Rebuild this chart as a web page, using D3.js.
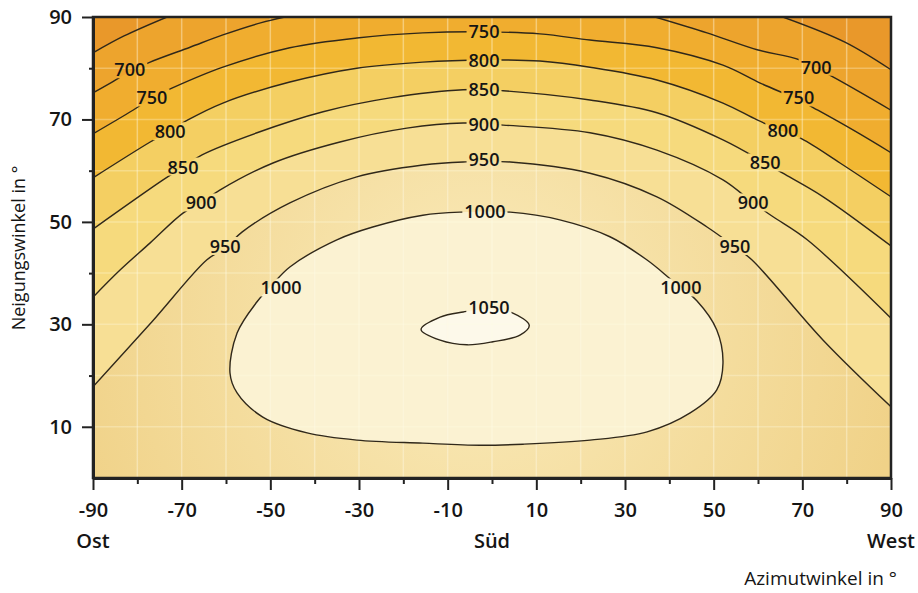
<!DOCTYPE html>
<html>
<head>
<meta charset="utf-8">
<script src="https://cdn.jsdelivr.net/npm/d3@7"></script>
<style>
  body { margin: 0; background: #fff; }
  text { font-family: 'Open Sans', sans-serif; fill: #151515; }
</style>
</head>
<body>
<svg id="chart" width="918" height="593"></svg>
<script>
// axis ticks
const azimuthTicks = [-90, -70, -50, -30, -10, 10, 30, 50, 70, 90]
const azimuthMinor = [-80, -60, -40, -20, 0, 20, 40, 60, 80]
const tiltTicks = [10, 30, 50, 70, 90]
const tiltMinor = [20, 40, 60, 80]
const directionLabels = [['Ost', -90], ['Süd', 0], ['West', 90]]

// contour levels (kWh/m²) and the band colours between them
const levels = [650, 700, 750, 800, 850, 900, 950, 1000, 1050]
const bandColors = ['#e9982a', '#eda42d', '#f0ad2f', '#f2b833', '#f4cf62',
  '#f6da7d', '#f7df95', '#f3d78d', '#fbf2d2', '#fdf9ea']

// contour lines, [azimuth, tilt]
const line650Ost = [[-90, 83.0], [-83, 86.3], [-73.3, 90]]
const line650West = [[65.6, 90], [79.6, 85.1], [90, 79.7]]
const line700Ost = [[-90, 75.2], [-85.7, 77.3], [-81.4, 79.5], [-77.1, 81.2], [-68.1, 84.1],
  [-60.7, 86.5], [-52, 88.9], [-46.7, 90]]
const line700West = [[36.8, 90], [48.5, 86.9], [59.8, 83.6], [69.5, 81.6], [76.9, 78.3], [90, 71.8]]
const line750 = [[-90, 67.2], [-81, 71.8], [-76.7, 74.2], [-72.2, 76.1], [-60.7, 80.2], [-45.6, 84.0],
  [-30.5, 85.9], [-15.6, 86.9], [-1.8, 87.1], [10.8, 86.7], [22.1, 85.5], [37.2, 84.0],
  [52.1, 80.6], [60.5, 77.1], [69.2, 73.8], [73.5, 71.8], [81.9, 67.7], [90, 63.5]]
const line800 = [[-90, 58.6], [-77.1, 65.6], [-72.6, 67.8], [-68.6, 69.9], [-60.7, 73.2], [-45.6, 77.3],
  [-30.5, 80.0], [-15.6, 81.2], [-1.8, 81.6], [10.8, 81.4], [22.1, 80.2], [37.2, 77.7],
  [52.1, 73.2], [59.8, 69.9], [65.6, 67.7], [69.9, 66.2], [78.5, 61.5], [90, 54.9]]
const line850 = [[-90, 48.6], [-74.2, 58.2], [-69.7, 60.7], [-65.4, 63.1], [-53, 67.4], [-38.1, 71.5],
  [-23, 74.2], [-6.5, 75.8], [2.5, 75.6], [22.1, 73.8], [37.2, 71.3], [52.1, 66.0],
  [61.6, 61.5], [65.6, 59.5], [74.7, 54.9], [90, 45.3]]
const line900 = [[-90, 35.3], [-83.9, 40.6], [-77.1, 45.9], [-69.7, 51.7], [-65.6, 53.7], [-61.4, 56.2],
  [-49.4, 61.5], [-34.3, 65.6], [-19.2, 68.3], [-6.5, 69.3], [2.5, 68.9], [22.1, 67.4],
  [37.2, 64.0], [52.1, 58.2], [58.9, 53.7], [63.4, 51.0], [71.1, 46.5], [90, 31.2]]
const line950 = [[-90, 17.8], [-76.7, 30.5], [-64.3, 42.6], [-60.2, 44.9], [-56.4, 48.0], [-45.6, 53.7],
  [-30.5, 58.8], [-15.6, 61.1], [-6.5, 61.7], [4.1, 61.7], [22.1, 59.5], [37.2, 54.9],
  [48.5, 49.0], [54.8, 45.1], [58.6, 42.6], [74.7, 26.9], [90, 13.9]]
const loop1000 = [[-7.2, 51.9], [4.1, 51.9], [15.3, 50.4], [26.6, 47.1], [34.9, 42.6], [40.6, 38.6],
  [46.2, 34.6], [50.7, 28.9], [52.1, 22.4], [50.7, 17.2], [44.7, 12.7], [35.0, 9.0], [22.1, 7.4],
  [7.0, 6.6], [-2.7, 6.4], [-15.6, 6.8], [-30.5, 7.4], [-41.7, 8.8], [-51.7, 11.9], [-57.5, 16.6],
  [-59.1, 20.5], [-57.5, 28.3], [-53.0, 34.4], [-49.4, 37.9], [-45.6, 41.2], [-35.0, 46.5],
  [-26.9, 49.0], [-15.6, 51.3]]
const loop1050 = [[-16, 29], [-11.7, 31.4], [-6.5, 32.4], [-0.7, 33.0], [4.7, 32.2], [8.4, 29.8],
  [6.3, 27.9], [0.2, 26.6], [-5.6, 26.0], [-11.7, 26.9]]

// contour labels, [level, azimuth, tilt]
const labelsOst = [[700, -81.7, 79.7], [750, -76.7, 74.2], [800, -72.6, 67.6], [850, -69.7, 60.7],
  [900, -65.6, 53.7], [950, -60.2, 45.2], [1000, -47.6, 37.1]]
const labelsWest = [[700, 73.1, 80.2], [750, 69.2, 74.2], [800, 65.6, 67.9], [850, 61.6, 61.5],
  [900, 58.9, 53.7], [950, 54.8, 45.2], [1000, 42.6, 37.1]]
const labelsSued = [[750, -1.8, 87.1], [800, -1.8, 81.6], [850, -1.8, 75.8], [900, -1.8, 69.1],
  [950, -1.8, 62.1], [1000, -1.6, 52.1], [1050, -0.7, 33.2]]

const svg = d3.select('#chart')
const x = d3.scaleLinear().domain([-90, 90]).range([93, 891])
const y = d3.scaleLinear().domain([0, 90]).range([478, 17])

const openLine = d3.line().x(d => x(d[0])).y(d => y(d[1])).curve(d3.curveCatmullRom)
const closedLine = d3.line().x(d => x(d[0])).y(d => y(d[1])).curve(d3.curveCatmullRomClosed)

const defs = svg.append('defs')
defs.append('clipPath').attr('id', 'plotClip')
  .append('rect')
  .attr('x', x(-90)).attr('y', y(90))
  .attr('width', x(90) - x(-90)).attr('height', y(0) - y(90))

const grad = defs.append('radialGradient')
  .attr('id', 'baseGrad')
  .attr('gradientUnits', 'userSpaceOnUse')
  .attr('cx', x(-3)).attr('cy', y(30)).attr('r', 430)
grad.append('stop').attr('offset', '0%').attr('stop-color', '#faebbb')
grad.append('stop').attr('offset', '100%').attr('stop-color', '#f0d288')

const plot = svg.append('g').attr('clip-path', 'url(#plotClip)')

// base band 950-1000
plot.append('rect')
  .attr('x', x(-90)).attr('y', y(90))
  .attr('width', x(90) - x(-90)).attr('height', y(0) - y(90))
  .attr('fill', 'url(#baseGrad)')

// regions above each arc (lower values), from inside out
const arcs = [
  { level: 950, pts: line950 },
  { level: 900, pts: line900 },
  { level: 850, pts: line850 },
  { level: 800, pts: line800 },
  { level: 750, pts: line750 },
  { level: 700, pts: line700Ost },
  { level: 700, pts: line700West },
  { level: 650, pts: line650Ost },
  { level: 650, pts: line650West }
]

plot.selectAll('.band')
  .data(arcs)
  .enter().append('path')
  .attr('class', 'band')
  .attr('d', d => {
    const first = d.pts[0]
    const last = d.pts[d.pts.length - 1]
    return openLine(d.pts) + `L${x(last[0])},${y(100)}L${x(first[0])},${y(100)}Z`
  })
  .attr('fill', d => bandColors[levels.indexOf(d.level)])

const loops = [{ level: 1000, pts: loop1000 }, { level: 1050, pts: loop1050 }]

plot.selectAll('.loop-fill')
  .data(loops)
  .enter().append('path')
  .attr('class', 'loop-fill')
  .attr('d', d => closedLine(d.pts))
  .attr('fill', d => bandColors[levels.indexOf(d.level) + 1])

// faint grid
const gridAz = d3.range(-80, 90, 10)
const gridTilt = d3.range(10, 90, 10)
plot.selectAll('.vgrid')
  .data(gridAz)
  .enter().append('line')
  .attr('x1', d => x(d)).attr('x2', d => x(d))
  .attr('y1', y(90)).attr('y2', y(0))
  .attr('stroke', '#fffbe6').attr('stroke-opacity', 0.4).attr('stroke-width', 1.5)
plot.selectAll('.hgrid')
  .data(gridTilt)
  .enter().append('line')
  .attr('y1', d => y(d)).attr('y2', d => y(d))
  .attr('x1', x(-90)).attr('x2', x(90))
  .attr('stroke', '#fffbe6').attr('stroke-opacity', 0.3).attr('stroke-width', 1.5)

// contour lines, broken where labels sit
const lineGroup = plot.append('g').attr('mask', 'url(#labelGaps)')

lineGroup.selectAll('.arc-line')
  .data(arcs)
  .enter().append('path')
  .attr('d', d => openLine(d.pts))
  .attr('fill', 'none')
  .attr('stroke', '#30281a')
  .attr('stroke-width', 1.4)

lineGroup.selectAll('.loop-line')
  .data(loops)
  .enter().append('path')
  .attr('d', d => closedLine(d.pts))
  .attr('fill', 'none')
  .attr('stroke', '#30281a')
  .attr('stroke-width', 1.4)

const allLabels = labelsOst.concat(labelsWest, labelsSued)

const labelText = svg.append('g').selectAll('.clabel')
  .data(allLabels)
  .enter().append('text')
  .attr('class', 'clabel')
  .attr('x', d => x(d[1]))
  .attr('y', d => y(d[2]))
  .attr('dy', '0.36em')
  .attr('text-anchor', 'middle')
  .style('font-size', '18px')
  .style('font-weight', 600)
  .text(d => d[0])

const mask = defs.append('mask')
  .attr('id', 'labelGaps')
  .attr('maskUnits', 'userSpaceOnUse')
  .attr('x', 0).attr('y', 0).attr('width', 918).attr('height', 593)
mask.append('rect').attr('x', 0).attr('y', 0).attr('width', 918).attr('height', 593).attr('fill', '#fff')
labelText.each(function () {
  const b = this.getBBox()
  mask.append('rect')
    .attr('x', b.x - 2).attr('y', b.y + 3)
    .attr('width', b.width + 4).attr('height', b.height - 6)
    .attr('fill', '#000')
})

// frame
svg.append('rect')
  .attr('x', x(-90)).attr('y', y(90))
  .attr('width', x(90) - x(-90)).attr('height', y(0) - y(90))
  .attr('fill', 'none')
  .attr('stroke', '#222')
  .attr('stroke-width', 2.5)

// axes
const plain = d => String(d)
const xAxis = svg.append('g')
  .attr('transform', `translate(0,${y(0)})`)
  .call(d3.axisBottom(x).tickValues(azimuthTicks).tickFormat(plain)
    .tickSize(12).tickSizeOuter(0).tickPadding(13))
const xMinor = svg.append('g')
  .attr('transform', `translate(0,${y(0)})`)
  .call(d3.axisBottom(x).tickValues(azimuthMinor).tickSize(6).tickSizeOuter(0).tickFormat(''))
const yAxis = svg.append('g')
  .attr('transform', `translate(${x(-90)},0)`)
  .call(d3.axisLeft(y).tickValues(tiltTicks).tickFormat(plain)
    .tickSize(11).tickSizeOuter(0).tickPadding(10))
const yMinor = svg.append('g')
  .attr('transform', `translate(${x(-90)},0)`)
  .call(d3.axisLeft(y).tickValues(tiltMinor).tickSize(4).tickSizeOuter(0).tickFormat(''))

;[xAxis, xMinor, yAxis, yMinor].forEach(g => {
  g.select('.domain').attr('stroke', '#222').attr('stroke-width', 3)
  g.selectAll('.tick line').attr('stroke', '#222').attr('stroke-width', 2)
  g.selectAll('.tick text')
    .style('font-family', "'Open Sans', sans-serif")
    .style('font-size', '20px')
    .style('font-weight', 600)
    .attr('fill', '#151515')
})

svg.selectAll('.dir')
  .data(directionLabels)
  .enter().append('text')
  .attr('x', d => x(d[1]))
  .attr('y', 548)
  .attr('text-anchor', 'middle')
  .style('font-size', '20px')
  .style('font-weight', 600)
  .text(d => d[0])

svg.append('text')
  .attr('x', 897)
  .attr('y', 585)
  .attr('text-anchor', 'end')
  .style('font-size', '19px')
  .style('font-weight', 500)
  .text('Azimutwinkel in °')

svg.append('text')
  .attr('transform', 'translate(25,248) rotate(-90)')
  .attr('text-anchor', 'middle')
  .style('font-size', '18px')
  .style('font-weight', 500)
  .text('Neigungswinkel in °')
</script>
</body>
</html>
